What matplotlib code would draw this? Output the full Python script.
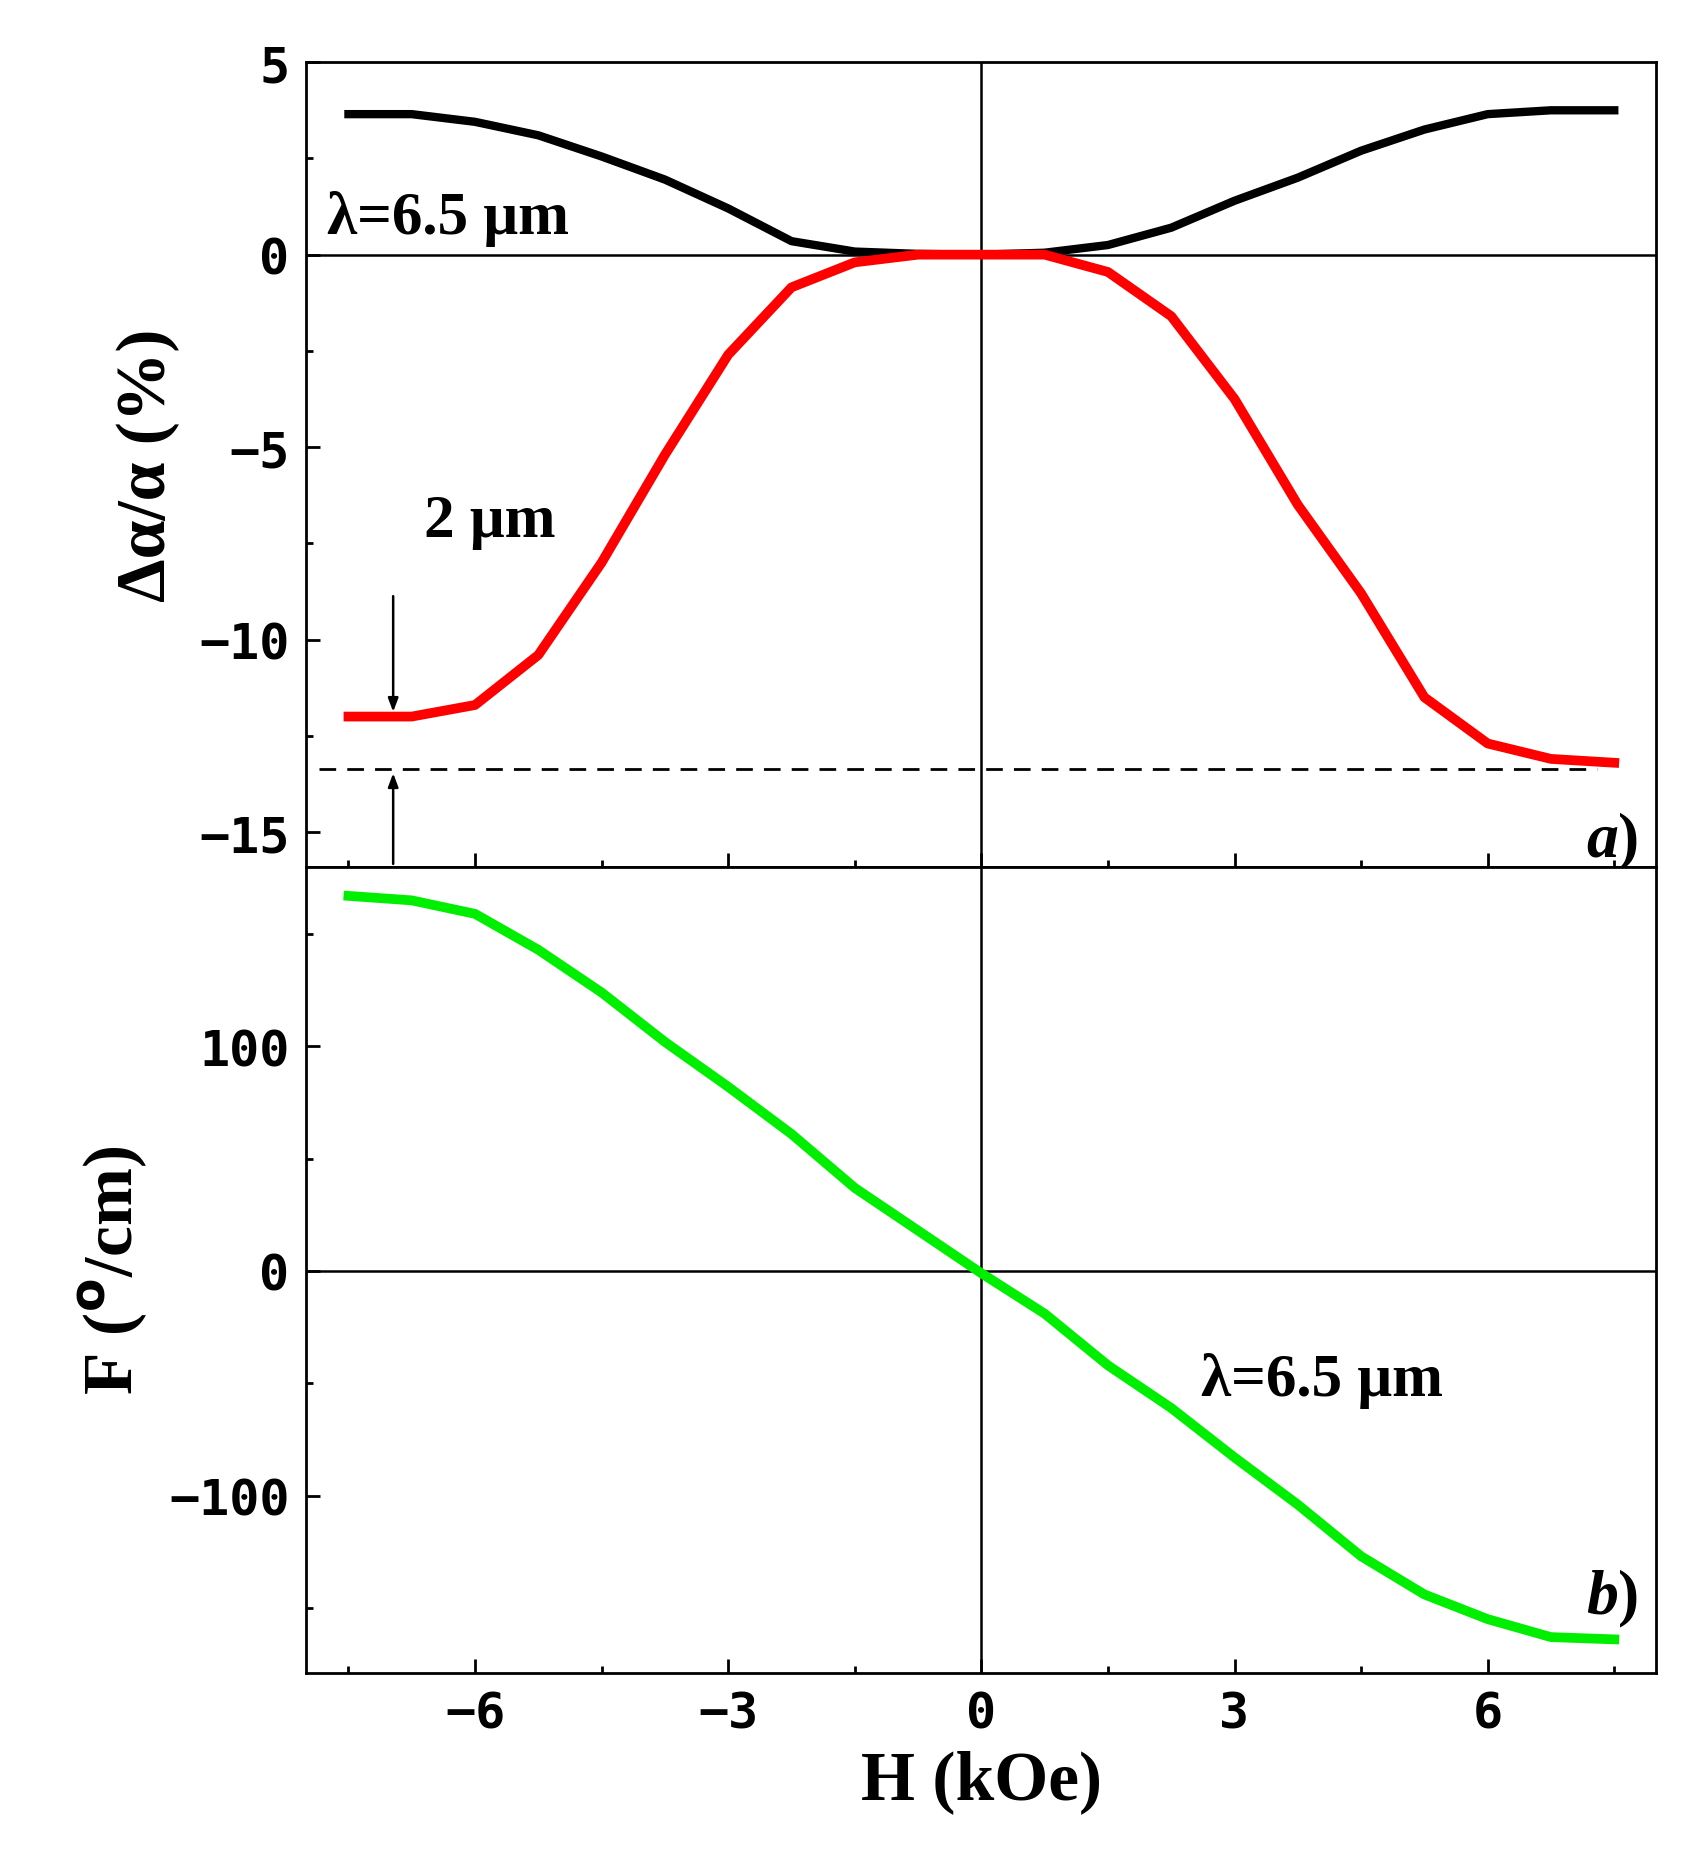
import matplotlib
matplotlib.use("Agg")
import matplotlib.pyplot as plt
from matplotlib.ticker import MultipleLocator
from matplotlib.font_manager import FontProperties

H = [-7.5,-6.75,-6,-5.25,-4.5,-3.75,-3,-2.25,-1.5,-0.75,0,0.75,1.5,2.25,3,3.75,4.5,5.25,6,6.75,7.5]
black = [3.65,3.65,3.45,3.1,2.55,1.95,1.2,0.35,0.08,0.02,0,0.05,0.25,0.7,1.4,2.0,2.7,3.25,3.65,3.75,3.75]
red = [-12.0,-12.0,-11.7,-10.4,-8.0,-5.2,-2.6,-0.85,-0.2,0,0,0,-0.45,-1.6,-3.75,-6.5,-8.8,-11.5,-12.7,-13.1,-13.2]
green = [167,165,159,143,124,102,82,61,37,18,-1,-19,-42,-61,-83,-104,-127,-144,-155,-163,-164]
dash_level = -13.35
arrow_x = -6.97

fig = plt.figure(figsize=(16.92,18.58), dpi=100)
ax1 = fig.add_axes([0.181,0.533,0.798,0.433])
ax2 = fig.add_axes([0.181,0.099,0.798,0.434])
tickfont = dict(family='DejaVu Sans Mono', weight='bold', size=36)
serif = ['Liberation Serif']

for ax in (ax1, ax2):
    ax.set_xlim(-8,8)
    ax.axvline(0,color='k',lw=1.8)
    ax.axhline(0,color='k',lw=1.8)
    for s in ax.spines.values(): s.set_linewidth(2)
    ax.tick_params(which='both', direction='in', width=2, right=False, top=False, pad=12)
    ax.tick_params(which='major', length=10)
    ax.tick_params(which='minor', length=5)
    ax.xaxis.set_major_locator(MultipleLocator(3))
    ax.xaxis.set_minor_locator(MultipleLocator(1.5))

ax1.plot(H, black, color='k', lw=6)
ax1.plot(H, red, color='#ff0000', lw=7)
ax1.set_ylim(-15.9,5)
ax1.yaxis.set_minor_locator(MultipleLocator(2.5))
ax1.tick_params(labelbottom=False)
ax1.set_yticks([-15,-10,-5,0,5])
ax1.set_yticklabels(['−15','−10','−5','0','5'], **tickfont)
ax1.plot([-7.85,7.3],[dash_level,dash_level],'k--',lw=2,dashes=(6,4))
ax1.annotate('', xy=(arrow_x,-11.95), xytext=(arrow_x,-8.8),
             arrowprops=dict(arrowstyle='-|>,head_width=0.3,head_length=0.8',color='k',lw=1.8))
ax1.annotate('', xy=(arrow_x,-13.4), xytext=(arrow_x,-15.9),
             arrowprops=dict(arrowstyle='-|>,head_width=0.3,head_length=0.8',color='k',lw=1.8), annotation_clip=False)
ax1.text(-7.75,0.55,'λ=6.5 μm',family=serif,weight='bold',size=44)
ax1.text(-6.6,-7.3,'2 μm',family=serif,weight='bold',size=44)
ax1.text(7.55,-15.6,'a',family=serif,weight='bold',style='italic',size=46,ha='right')
ax1.text(7.55,-15.6,')',family=serif,weight='bold',size=46,ha='left')
ax1.set_ylabel('Δα/α (%)',family=serif,weight='bold',size=50,labelpad=14)

ax2.plot(H, green, color='#00ee00', lw=7)
ax2.set_ylim(-179,180)
ax2.set_yticks([-100,0,100])
ax2.set_yticklabels(['−100','0','100'], **tickfont)
ax2.yaxis.set_minor_locator(MultipleLocator(50))
ax2.set_xticks([-6,-3,0,3,6])
ax2.set_xticklabels(['−6','−3','0','3','6'], **tickfont)
ax2.text(2.6,-55,'λ=6.5 μm',family=serif,weight='bold',size=44)
ax2.text(7.55,-152,'b',family=serif,weight='bold',style='italic',size=46,ha='right')
ax2.text(7.55,-152,')',family=serif,weight='bold',size=46,ha='left')
ax2.set_ylabel('F ($^{\\mathbf{o}}$/cm)',family=serif,weight='bold',size=50,labelpad=14)
ax2.set_xlabel('H (kOe)',family=serif,weight='bold',size=50,labelpad=8)
fig.savefig('out.png', dpi=100)
